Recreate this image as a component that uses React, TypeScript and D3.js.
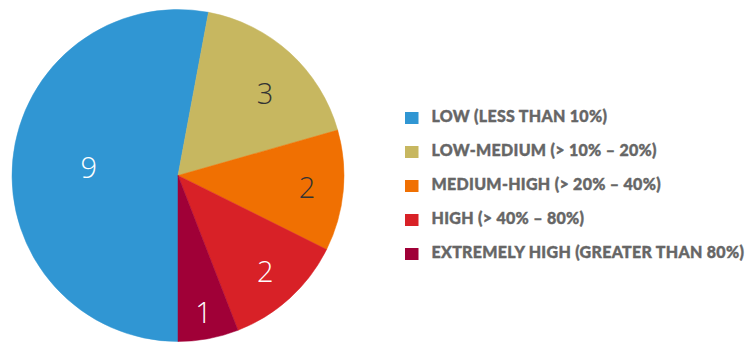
import React from "react";
import * as d3 from "d3";

const categories = [
  "LOW (LESS THAN 10%)",
  "LOW-MEDIUM (> 10% – 20%)",
  "MEDIUM-HIGH (> 20% – 40%)",
  "HIGH (> 40% – 80%)",
  "EXTREMELY HIGH (GREATER THAN 80%)",
];
const values = [9, 3, 2, 2, 1];
const colors = ["#3096D3", "#C7B760", "#F07002", "#D82127", "#A00037"];
const labelColors = ["#ffffff", "#333333", "#333333", "#ffffff", "#ffffff"];
const labelRadiusFactors = [0.54, 0.72, 0.78, 0.78, 0.84];
const labelAngleOffsetsDeg = [0, 4.3, 0, 0, 0];

const W = 745;
const H = 343;
const cx = 178;
const cy = 175.5;
const R = 166;

export default function App() {
  const pie = d3
    .pie<number>()
    .sort(null)
    .startAngle(Math.PI)
    .endAngle(3 * Math.PI);
  const arcs = pie(values);
  const arc = d3.arc<d3.PieArcDatum<number>>().innerRadius(0).outerRadius(R);
  const legendY = d3
    .scalePoint<number>()
    .domain(categories.map((_, i) => i))
    .range([118, 254]);

  return (
    <svg
      width={W}
      height={H}
      style={{ position: "absolute", left: 0, top: 0 }}
    >
      <rect width={W} height={H} fill="#ffffff" />
      <g transform={`translate(${cx},${cy})`}>
        {arcs.map((a, i) => (
          <path key={i} d={arc(a) || ""} fill={colors[i]} stroke={colors[i]} strokeWidth={0.5} />
        ))}
        {arcs.map((a, i) => {
          const mid = (a.startAngle + a.endAngle) / 2 + (labelAngleOffsetsDeg[i] * Math.PI) / 180;
          const r = R * labelRadiusFactors[i];
          const x = Math.sin(mid) * r;
          const y = -Math.cos(mid) * r;
          return (
            <text
              key={i}
              x={x}
              y={y}
              dy="0.36em"
              textAnchor="middle"
              fill={labelColors[i]}
              fontFamily="'Open Sans', sans-serif"
              fontWeight={300}
              fontSize={29}
            >
              {values[i]}
            </text>
          );
        })}
      </g>
      <g>
        {categories.map((c, i) => (
          <g key={i} transform={`translate(405,${legendY(i)})`}>
            <rect x={0} y={-6} width={13.5} height={12} fill={colors[i]} />
            <text
              x={26.5}
              y={-1.5}
              dy="0.36em"
              fill="#666666"
              stroke="#666666"
              strokeWidth={0.4}
              letterSpacing={0.3}
              fontFamily="Lato, sans-serif"
              fontWeight={900}
              fontSize={16}
            >
              {c}
            </text>
          </g>
        ))}
      </g>
    </svg>
  );
}
